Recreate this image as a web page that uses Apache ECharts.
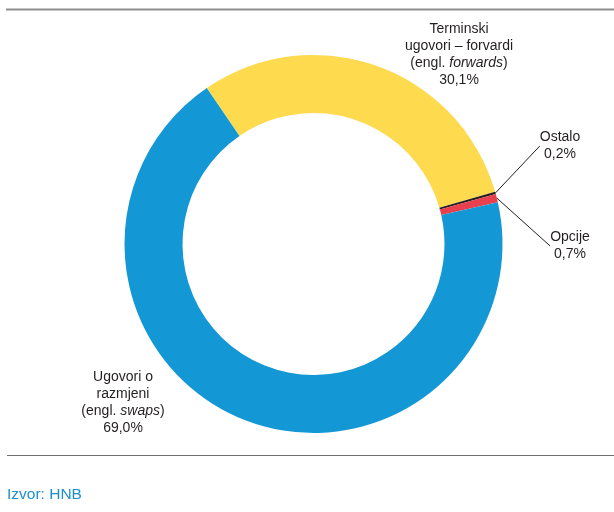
<!DOCTYPE html>
<html>
<head>
<meta charset="utf-8">
<script src="https://cdn.jsdelivr.net/npm/echarts@6/dist/echarts.min.js"></script>
<style>
html,body{margin:0;padding:0;background:#fff;}
#chart{width:614px;height:512px;}
</style>
</head>
<body>
<div id="chart"></div>
<script>
// Struktura izvedenica po vrsti instrumenta (udio, %)
const categories = ['forwards', 'ostalo', 'opcije', 'swaps'];
const shares = [30.1, 0.2, 0.7, 69.0];
const shareLabels = ['30,1%', '0,2%', '0,7%', '69,0%'];
const colors = ['#fdda4e', '#231f20', '#e8404e', '#1497d5'];

const FONT = '"Liberation Sans", Arial, sans-serif';

const labelTexts = [
  'Terminski\nugovori – forvardi\n(engl. {i|forwards})\n' + shareLabels[0],
  'Ostalo\n' + shareLabels[1],
  'Opcije\n' + shareLabels[2],
  'Ugovori o\nrazmjeni\n(engl. {i|swaps})\n' + shareLabels[3]
];

// label anchor points (x, y of label centre)
const labelAnchors = [
  [459, 55],
  [560, 146],
  [570, 246],
  [123, 403]
];

const chart = echarts.init(document.getElementById('chart'), null, {renderer: 'canvas'});

const data = categories.map((c, i) => ({
  name: c,
  value: shares[i],
  itemStyle: {color: colors[i]},
  label: {formatter: labelTexts[i]},
  labelLine: {show: i === 1 || i === 2}
}));

chart.setOption({
  animation: false,
  graphic: [
    {type: 'line', shape: {x1: 6, y1: 9.5, x2: 614, y2: 9.5}, style: {stroke: '#8f8f8f', lineWidth: 2}},
    {type: 'line', shape: {x1: 7, y1: 455.5, x2: 614, y2: 455.5}, style: {stroke: '#6f6f6f', lineWidth: 1.2}},
    {type: 'text', left: 7, top: 487, style: {text: 'Izvor: HNB', fill: '#1a8fcf', font: '15.5px ' + FONT}}
  ],
  series: [{
    type: 'pie',
    center: [313.5, 244],
    radius: [131, 189],
    startAngle: 124.4,
    clockwise: true,
    silent: true,
    data: data,
    label: {
      show: true,
      position: 'outside',
      color: '#231f20',
      fontFamily: FONT,
      fontSize: 14,
      lineHeight: 17,
      align: 'center',
      rich: {
        i: {fontStyle: 'italic', fontFamily: FONT, fontSize: 14, color: '#231f20', lineHeight: 17}
      }
    },
    labelLine: {
      length: 10,
      length2: 0,
      lineStyle: {color: '#231f20', width: 1}
    },
    labelLayout: function (p) {
      const a = labelAnchors[p.dataIndex];
      return {x: a[0], y: a[1], align: 'center', verticalAlign: 'middle'};
    }
  }]
});
</script>
</body>
</html>
